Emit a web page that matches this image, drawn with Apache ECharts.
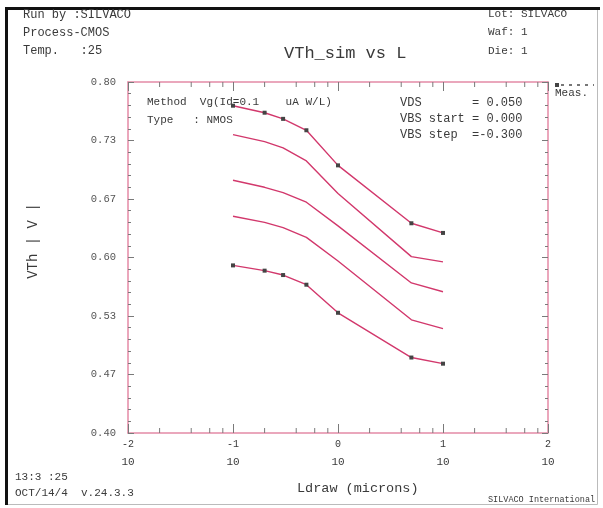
<!DOCTYPE html>
<html><head><meta charset="utf-8">
<script src="https://cdn.jsdelivr.net/npm/echarts@6/dist/echarts.min.js"></script>
<style>html,body{margin:0;padding:0;background:#fff}#c{width:603px;height:508px}</style>
</head><body><div id="c"></div>
<script>
// Drawn channel length (microns)
const L = [0.1, 0.2, 0.3, 0.5, 1, 5, 10];
// Threshold voltage curves (V), top to bottom
const vthMeasTop = [0.773, 0.765, 0.758, 0.745, 0.705, 0.639, 0.628];
const vthSim2    = [0.740, 0.732, 0.725, 0.710, 0.673, 0.601, 0.595];
const vthSim3    = [0.688, 0.680, 0.674, 0.663, 0.636, 0.571, 0.561];
const vthSim4    = [0.647, 0.640, 0.634, 0.623, 0.596, 0.529, 0.519];
const vthMeasBot = [0.591, 0.585, 0.580, 0.569, 0.537, 0.486, 0.479];
const yTickLabels = ['0.40', '0.47', '0.53', '0.60', '0.67', '0.73', '0.80'];
const xTickExps = ['-2', '-1', '0', '1', '2'];
const minorTickL = [0.02,0.04,0.06,0.08,0.2,0.4,0.6,0.8,2,4,6,8,20,40,60,80];

const MONO = '"Liberation Mono","DejaVu Sans Mono",monospace';
const TXT = '#3a3a3a';
const AXIS_PINK = '#e48aa6';
const CURVE = '#d2386c';
const TICK = '#7a7a7a';
const YMIN = 0.4, YMAX = 0.8, YINT = (YMAX - YMIN) / 6;

function pairs(xs, ys) { return xs.map((x, i) => [x, ys[i]]); }

const chart = echarts.init(document.getElementById('c'), null, {renderer: 'canvas'});

function lineSeries(ys, marks) {
  return {
    type: 'line', data: pairs(L, ys), xAxisIndex: 0, yAxisIndex: 0,
    showSymbol: marks, symbol: 'rect', symbolSize: 4,
    itemStyle: {color: '#444'},
    lineStyle: {color: CURVE, width: 1.4},
    animation: false, silent: true, z: 3
  };
}

const option = {
  animation: false,
  grid: {left: 128, right: 55, top: 82, bottom: 75, containLabel: false},
  xAxis: [
    {type: 'log', logBase: 10, min: 0.01, max: 100, position: 'bottom',
     axisLine: {lineStyle: {color: AXIS_PINK, width: 1.5}},
     axisTick: {inside: true, length: 9, lineStyle: {color: TICK}},
     splitLine: {show: false},
     axisLabel: {
       margin: 2, color: TXT, fontFamily: MONO,
       formatter: function (v) {
         const i = Math.round(Math.log10(v)) + 2;
         return '{e|' + xTickExps[i] + '}\n{b|10}';
       },
       rich: {
         e: {fontSize: 10, lineHeight: 18, fontFamily: MONO, color: TXT},
         b: {fontSize: 11, lineHeight: 18, fontFamily: MONO, color: TXT}
       }
     }},
    {type: 'log', logBase: 10, min: 0.01, max: 100, position: 'top',
     axisLine: {lineStyle: {color: AXIS_PINK, width: 1.5}},
     axisTick: {inside: true, length: 9, lineStyle: {color: TICK}},
     axisLabel: {show: false}, splitLine: {show: false}}
  ],
  yAxis: [
    {type: 'value', min: YMIN, max: YMAX, interval: YINT, position: 'left',
     axisLine: {show: true, lineStyle: {color: AXIS_PINK, width: 1.5}},
     axisTick: {show: true, inside: true, length: 6, lineStyle: {color: TICK}},
     minorTick: {show: true, splitNumber: 5, length: 3, lineStyle: {color: TICK}},
     splitLine: {show: false},
     axisLabel: {
       margin: 12, color: '#555', fontSize: 10.5, fontFamily: MONO,
       formatter: function (v) { return yTickLabels[Math.round((v - YMIN) / YINT)]; }
     }},
    {type: 'value', min: YMIN, max: YMAX, interval: YINT, position: 'right',
     axisLine: {show: true, lineStyle: {color: AXIS_PINK, width: 1.5}},
     axisTick: {show: true, inside: true, length: 6, lineStyle: {color: TICK}},
     minorTick: {show: true, splitNumber: 5, length: 3, lineStyle: {color: TICK}},
     splitLine: {show: false}, axisLabel: {show: false}}
  ],
  series: [
    lineSeries(vthMeasTop, true),
    lineSeries(vthSim2, false),
    lineSeries(vthSim3, false),
    lineSeries(vthSim4, false),
    lineSeries(vthMeasBot, true),
    {
      type: 'custom', xAxisIndex: 0, yAxisIndex: 0, silent: true, z: 4,
      data: minorTickL.map(v => [v]),
      renderItem: function (params, api) {
        const b = api.coord([api.value(0), YMIN]);
        const t = api.coord([api.value(0), YMAX]);
        return {type: 'group', children: [
          {type: 'line', shape: {x1: b[0], y1: b[1], x2: b[0], y2: b[1] - 5}, style: {stroke: TICK, lineWidth: 1}},
          {type: 'line', shape: {x1: t[0], y1: t[1], x2: t[0], y2: t[1] + 5}, style: {stroke: TICK, lineWidth: 1}}
        ]};
      }
    }
  ],
  graphic: [
    {type: 'rect', shape: {x: 6.5, y: 8.5, width: 591, height: 496}, style: {fill: 'none', stroke: '#bbb', lineWidth: 1}, silent: true},
    {type: 'line', shape: {x1: 5, y1: 8.5, x2: 600, y2: 8.5}, style: {stroke: '#111', lineWidth: 3}, silent: true},
    {type: 'line', shape: {x1: 6.5, y1: 7, x2: 6.5, y2: 505}, style: {stroke: '#111', lineWidth: 3}, silent: true},
    {type: 'text', left: 23, top: 9, style: {text: 'Run by :SILVACO', font: '12px ' + MONO, fill: TXT}},
    {type: 'text', left: 23, top: 27, style: {text: 'Process-CMOS', font: '12px ' + MONO, fill: TXT}},
    {type: 'text', left: 23, top: 45, style: {text: 'Temp.   :25', font: '12px ' + MONO, fill: TXT}},
    {type: 'text', left: 488, top: 9, style: {text: 'Lot: SILVACO', font: '11px ' + MONO, fill: TXT}},
    {type: 'text', left: 488, top: 27, style: {text: 'Waf: 1', font: '11px ' + MONO, fill: TXT}},
    {type: 'text', left: 488, top: 46, style: {text: 'Die: 1', font: '11px ' + MONO, fill: TXT}},
    {type: 'text', left: 284, top: 45, style: {text: 'VTh_sim vs L', font: '17px ' + MONO, fill: TXT}},
    {type: 'text', left: 147, top: 97, style: {text: 'Method  Vg(Id=0.1    uA W/L)', font: '11px ' + MONO, fill: TXT}},
    {type: 'text', left: 147, top: 115, style: {text: 'Type   : NMOS', font: '11px ' + MONO, fill: TXT}},
    {type: 'text', left: 400, top: 97, style: {text: 'VDS       = 0.050', font: '12px ' + MONO, fill: TXT}},
    {type: 'text', left: 400, top: 113, style: {text: 'VBS start = 0.000', font: '12px ' + MONO, fill: TXT}},
    {type: 'text', left: 400, top: 129, style: {text: 'VBS step  =-0.300', font: '12px ' + MONO, fill: TXT}},
    {type: 'text', left: 555, top: 88, style: {text: 'Meas.', font: '11px ' + MONO, fill: TXT}},
    {type: 'rect', shape: {x: 555, y: 83, width: 4, height: 4}, style: {fill: '#444'}},
    {type: 'line', shape: {x1: 561, y1: 85, x2: 594, y2: 85}, style: {stroke: '#777', lineWidth: 2, lineDash: [3, 5]}},
    {type: 'text', rotation: Math.PI / 2, x: 33, y: 241, style: {text: 'VTh | V |', font: '14px ' + MONO, fill: TXT, align: 'center', verticalAlign: 'middle'}},
    {type: 'text', left: 297, top: 481, style: {text: 'Ldraw (microns)', font: '13.5px ' + MONO, fill: TXT}},
    {type: 'text', left: 15, top: 472, style: {text: '13:3 :25', font: '11px ' + MONO, fill: TXT}},
    {type: 'text', left: 15, top: 488, style: {text: 'OCT/14/4  v.24.3.3', font: '11px ' + MONO, fill: TXT}},
    {type: 'text', left: 488, top: 495, style: {text: 'SILVACO International', font: '8.5px ' + MONO, fill: TXT}}
  ]
};
chart.setOption(option);
</script>
</body></html>
